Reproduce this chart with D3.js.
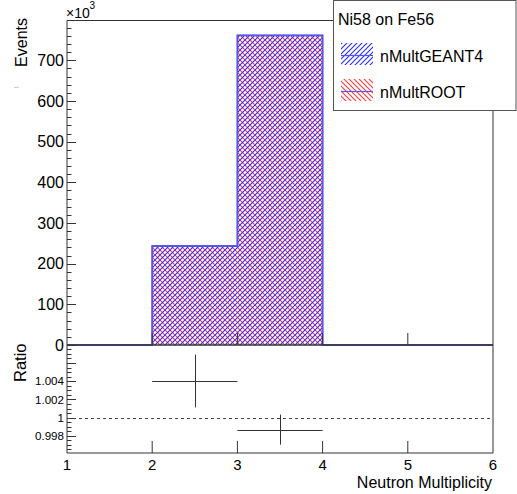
<!DOCTYPE html>
<html>
<head>
<meta charset="utf-8">
<script src="https://cdn.jsdelivr.net/npm/d3@7"></script>
<style>
  body { margin: 0; background: #fff; }
  text { font-family: "Liberation Sans", Arial, sans-serif; fill: #000; }
</style>
</head>
<body>
<div id="chart"></div>
<script>
// data (events in units of 10^3)
var binEdges = [1, 2, 3, 4, 5, 6];
var geant4 = [0, 244.0, 761.0, 0, 0];
var rootHist = [0, 243.0, 762.0, 0, 0];
var ratioX = [2.5, 3.5];
var ratioXLo = [2, 3];
var ratioXHi = [3, 4];
var ratioY = [1.00402, 0.99868];
var ratioErr = [0.0029, 0.00165];
var yTicks = [0, 100, 200, 300, 400, 500, 600, 700];
var ratioTicks = [0.998, 1, 1.002, 1.004];
var xTicks = [1, 2, 3, 4, 5, 6];

var width = 517, height = 494;
var left = 67, right = 493;
var mainTop = 20.5, mainBottom = 345, ratioBottom = 453;

var svg = d3.select('#chart').append('svg')
    .attr('width', width)
    .attr('height', height);

svg.append('rect').attr('width', width).attr('height', height).attr('fill', '#fff');

// hatch patterns
var defs = svg.append('defs');
function hatch(id, color, dir) {
    var p = defs.append('pattern')
        .attr('id', id)
        .attr('patternUnits', 'userSpaceOnUse')
        .attr('width', 5)
        .attr('height', 5);
    if (dir > 0) {
        p.append('path').attr('d', 'M-1,1 L1,-1 M0,5 L5,0 M4,6 L6,4');
    } else {
        p.append('path').attr('d', 'M-1,4 L1,6 M0,0 L5,5 M4,-1 L6,1');
    }
    p.select('path').attr('stroke', color).attr('stroke-width', 1.1);
}
hatch('hBlue', '#2a2aff', 1);
hatch('hRed', '#ff3a3a', -1);

var x = d3.scaleLinear().domain([1, 6]).range([left, right]);
var y = d3.scaleLinear().domain([0, 798]).range([mainBottom, mainTop]);
var yr = d3.scaleLinear().domain([0.99611, 1.00798]).range([ratioBottom, mainBottom]);

function bins(values) {
    return values.map(function(v, i) {
        return { x0: binEdges[i], x1: binEdges[i + 1], v: v };
    }).filter(function(d) { return d.v > 0; });
}

function stepLine(values) {
    var pts = [[binEdges[0], 0]];
    values.forEach(function(v, i) {
        pts.push([binEdges[i], v]);
        pts.push([binEdges[i + 1], v]);
    });
    pts.push([binEdges[binEdges.length - 1], 0]);
    return d3.line().x(function(d) { return x(d[0]); }).y(function(d) { return y(d[1]); })(pts);
}

// histograms
var gHist = svg.append('g');
gHist.selectAll('rect.root').data(bins(rootHist)).enter().append('rect')
    .attr('x', function(d) { return x(d.x0); })
    .attr('y', function(d) { return y(d.v); })
    .attr('width', function(d) { return x(d.x1) - x(d.x0); })
    .attr('height', function(d) { return y(0) - y(d.v); })
    .attr('fill', 'url(#hRed)');
gHist.selectAll('rect.g4').data(bins(geant4)).enter().append('rect')
    .attr('x', function(d) { return x(d.x0); })
    .attr('y', function(d) { return y(d.v); })
    .attr('width', function(d) { return x(d.x1) - x(d.x0); })
    .attr('height', function(d) { return y(0) - y(d.v); })
    .attr('fill', 'url(#hBlue)');
gHist.append('path').attr('d', stepLine(rootHist))
    .attr('fill', 'none').attr('stroke', '#5555ee').attr('stroke-width', 1.5);
gHist.append('path').attr('d', stepLine(geant4))
    .attr('fill', 'none').attr('stroke', '#5555ee').attr('stroke-width', 1.5);

var axisColor = '#333';

// main x ticks (no labels)
svg.append('g').selectAll('line').data(xTicks.slice(1, -1)).enter().append('line')
    .attr('x1', function(d) { return x(d); }).attr('x2', function(d) { return x(d); })
    .attr('y1', mainBottom).attr('y2', mainBottom - 12)
    .attr('stroke', axisColor);

// main y axis
var yMinor = d3.range(0, 798, 20);
svg.append('g').selectAll('line').data(yMinor).enter().append('line')
    .attr('x1', left).attr('x2', function(d) { return d % 100 === 0 ? left + 9 : left + 4.5; })
    .attr('y1', function(d) { return Math.round(y(d)) + 0.5; })
    .attr('y2', function(d) { return Math.round(y(d)) + 0.5; })
    .attr('stroke', axisColor);
svg.append('g').selectAll('text').data(yTicks).enter().append('text')
    .attr('x', 64)
    .attr('y', function(d) { return y(d); })
    .attr('dy', '0.36em')
    .attr('text-anchor', 'end')
    .attr('font-size', 16)
    .text(function(d) { return d; });

svg.append('text').attr('x', 66).attr('y', 17.5).attr('font-size', 14).text('×10');
svg.append('text').attr('x', 89.5).attr('y', 9).attr('font-size', 10).text('3');

svg.append('text')
    .attr('transform', 'translate(27,18) rotate(-90)')
    .attr('text-anchor', 'end')
    .attr('font-size', 16)
    .text('Events');
svg.append('line').attr('x1', 14).attr('x2', 19).attr('y1', 87.5).attr('y2', 87.5)
    .attr('stroke', '#ccc');

// main frame
svg.append('path')
    .attr('d', 'M' + left + ',' + mainBottom + ' V' + mainTop + ' H' + right + ' V' + mainBottom)
    .attr('fill', 'none').attr('stroke', axisColor);
svg.append('line').attr('x1', left).attr('x2', right)
    .attr('y1', mainBottom).attr('y2', mainBottom)
    .attr('stroke', axisColor).attr('stroke-width', 1.5);

// ratio panel
svg.append('path')
    .attr('d', 'M' + left + ',' + mainBottom + ' V' + ratioBottom + ' H' + right + ' V' + mainBottom)
    .attr('fill', 'none').attr('stroke', axisColor);

var rMinor = d3.range(0, 24).map(function(i) { return 0.9965 + i * 0.0005; })
    .filter(function(d) { return d > 0.99611 && d < 1.00798; });
svg.append('g').selectAll('line').data(rMinor).enter().append('line')
    .attr('x1', left)
    .attr('x2', function(d) { return Math.abs(Math.round(d * 1000) / 1000 - d) < 1e-7 && Math.round(d * 1000) % 2 === 0 ? left + 9 : left + 4.5; })
    .attr('y1', function(d) { return Math.round(yr(d)) + 0.5; })
    .attr('y2', function(d) { return Math.round(yr(d)) + 0.5; })
    .attr('stroke', axisColor);
svg.append('g').selectAll('text').data(ratioTicks).enter().append('text')
    .attr('x', 64)
    .attr('y', function(d) { return yr(d); })
    .attr('dy', '0.36em')
    .attr('text-anchor', 'end')
    .attr('font-size', 11.6)
    .text(function(d) { return d3.format('~g')(d); });

svg.append('text')
    .attr('transform', 'translate(26,382) rotate(-90)')
    .attr('font-size', 16.5)
    .text('Ratio');

// ratio x ticks + labels
svg.append('g').selectAll('line').data(xTicks.slice(1, -1)).enter().append('line')
    .attr('x1', function(d) { return x(d); }).attr('x2', function(d) { return x(d); })
    .attr('y1', ratioBottom).attr('y2', ratioBottom - 12)
    .attr('stroke', axisColor);
svg.append('g').selectAll('text').data(xTicks).enter().append('text')
    .attr('x', function(d) { return x(d); })
    .attr('y', 469.5)
    .attr('text-anchor', 'middle')
    .attr('font-size', 15)
    .text(function(d) { return d; });
svg.append('text').attr('x', 492).attr('y', 488).attr('text-anchor', 'end')
    .attr('font-size', 16).text('Neutron Multiplicity');

// dashed line at 1
svg.append('line').attr('x1', left).attr('x2', right)
    .attr('y1', Math.round(yr(1)) + 0.5).attr('y2', Math.round(yr(1)) + 0.5)
    .attr('stroke', '#444').attr('stroke-dasharray', '3,3');

// ratio points
var gR = svg.append('g').attr('stroke', '#333').attr('stroke-width', 1);
ratioX.forEach(function(cx, i) {
    var py = Math.round(yr(ratioY[i])) + 0.5;
    var px = Math.round(x(cx)) + 0.5;
    gR.append('line').attr('x1', x(ratioXLo[i])).attr('x2', x(ratioXHi[i])).attr('y1', py).attr('y2', py);
    gR.append('line').attr('x1', px).attr('x2', px)
        .attr('y1', yr(ratioY[i] + ratioErr[i])).attr('y2', yr(ratioY[i] - ratioErr[i]));
});

// legend
var lg = svg.append('g');
lg.append('rect').attr('x', 333.5).attr('y', 0.5).attr('width', 182.5).attr('height', 110)
    .attr('fill', '#fff').attr('stroke', '#555');
lg.append('text').attr('x', 338).attr('y', 25).attr('font-size', 16).text('Ni58 on Fe56');
var entries = [
    { name: 'nMultGEANT4', fill: 'url(#hBlue)', y: 43 },
    { name: 'nMultROOT', fill: 'url(#hRed)', y: 79 }
];
entries.forEach(function(e) {
    lg.append('rect').attr('x', 341).attr('y', e.y).attr('width', 32).attr('height', 22)
        .attr('fill', e.fill);
    lg.append('line').attr('x1', 341).attr('x2', 373).attr('y1', e.y + 12.5).attr('y2', e.y + 12.5)
        .attr('stroke', '#5555ee').attr('stroke-width', 1.2);
    lg.append('text').attr('x', 380).attr('y', e.y + 19).attr('font-size', 16).text(e.name);
});
</script>
</body>
</html>
